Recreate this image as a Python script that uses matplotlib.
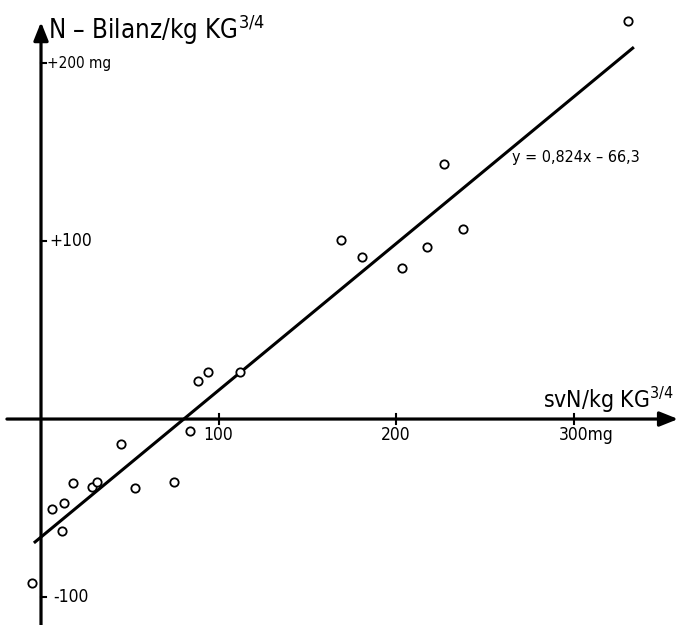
import matplotlib
matplotlib.use("Agg")
import matplotlib.pyplot as plt
import numpy as np

# data (svN mg/kg KG^3/4, N-Bilanz mg/kg KG^3/4)
sv_n = [-4.9, 6.0, 11.7, 12.8, 17.8, 28.5, 31.4, 45.1, 52.8, 74.8, 83.8,
        88.3, 93.9, 111.9, 169.0, 180.8, 203.2, 217.5, 226.9, 237.9, 330.7]
n_bilanz = [-92.3, -50.6, -63.1, -47.0, -36.0, -38.0, -35.2, -13.9, -38.8, -35.4, -6.6,
            21.5, 26.4, 26.4, 100.6, 91.0, 85.0, 96.8, 143.1, 106.9, 223.8]
slope = 0.824
intercept = -66.3
fit_range = [-4, 334]
x_ticks = [100, 200, 300]
y_ticks = [200, 100, -100]

plt.rcParams['font.family'] = ['DejaVu Sans']
plt.rcParams['font.stretch'] = 'condensed'
plt.rcParams['mathtext.fontset'] = 'custom'
plt.rcParams['mathtext.rm'] = 'DejaVu Sans:stretch=condensed'

fig = plt.figure(figsize=(6.85, 6.25), dpi=100)
ax = fig.add_axes([0, 0, 1, 1])
ax.set_xlim(-23.1, 362.8)
ax.set_ylim(-115.7, 235.4)
ax.axis('off')

# axes with arrows
arrow = dict(arrowstyle='-|>,head_length=0.55,head_width=0.22', lw=2.3, color='black',
             mutation_scale=20, shrinkA=0, shrinkB=0)
ax.annotate('', xy=(358.9, 0), xytext=(-19.2, 0), arrowprops=arrow)
ax.annotate('', xy=(0, 223.0), xytext=(0, -120), arrowprops=arrow)

# ticks
for t in x_ticks:
    ax.plot([t, t], [-2.8, 2.8], color='black', lw=1.5)
for t in y_ticks:
    ax.plot([0, 3.0], [t, t], color='black', lw=1.5)

# tick labels
ax.text(100, -11.8, '100', ha='center', va='baseline', fontsize=12.5)
ax.text(200, -11.8, '200', ha='center', va='baseline', fontsize=12.5)
ax.text(291.8, -11.8, '300mg', ha='left', va='baseline', fontsize=12.5)
ax.text(3.4, 200, '+200 mg', ha='left', va='center', fontsize=11)
ax.text(4.5, 100, '+100', ha='left', va='center', fontsize=12.5)
ax.text(6.8, -100, '-100', ha='left', va='center', fontsize=12.5)

# axis titles
ax.text(3.9, 213.5, r'N – Bilanz/kg KG$^{3/4}$', ha='left', va='baseline', fontsize=18.5)
ax.text(282.8, 6.2, r'svN/kg KG$^{3/4}$', ha='left', va='baseline', fontsize=16.5)

# regression line
xf = np.array(fit_range, dtype=float)
ax.plot(xf, slope * xf + intercept, color='black', lw=2.2, solid_capstyle='butt')
ax.text(265.4, 144.5, 'y = 0,824x – 66,3', ha='left', va='baseline', fontsize=11.5)

# points
ax.plot(sv_n, n_bilanz, 'o', ms=6, mfc='white', mec='black', mew=1.3, ls='none')

fig.savefig('out.png', dpi=100, facecolor='white')
